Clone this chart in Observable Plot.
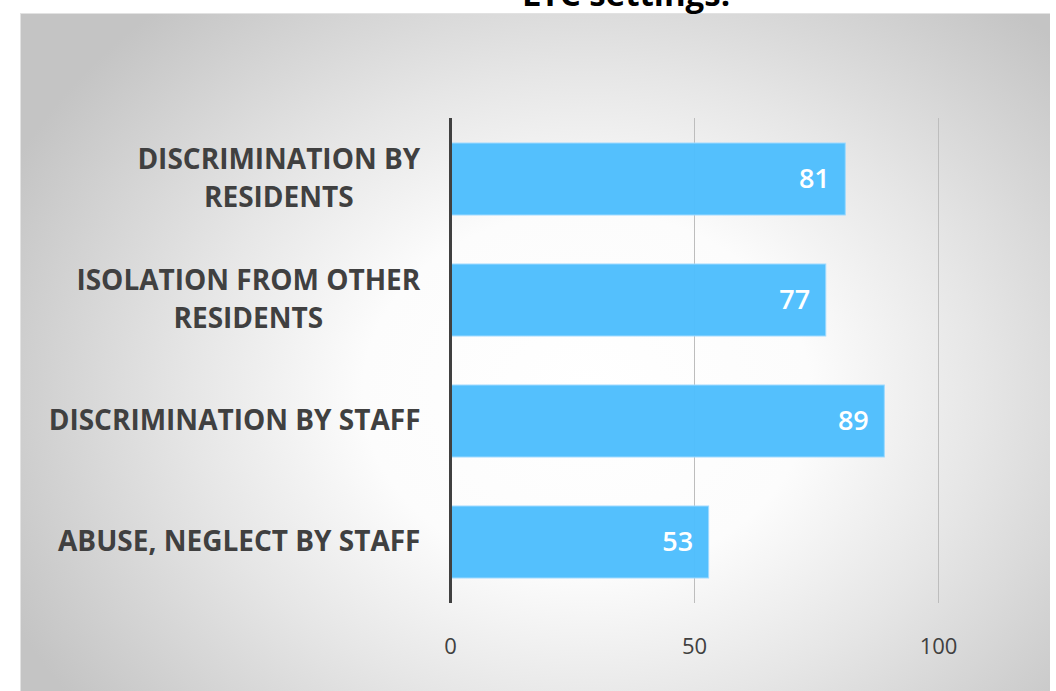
<!DOCTYPE html>
<html>
<head>
<meta charset="utf-8">
<script src="https://cdn.jsdelivr.net/npm/d3@7"></script>
<script src="https://cdn.jsdelivr.net/npm/@observablehq/plot@0.6"></script>
<style>
  html, body { margin: 0; padding: 0; background: #ffffff; width: 1056px; height: 691px; overflow: hidden; }
  #wrap { position: relative; width: 1056px; height: 691px; }
  #panel {
    position: absolute; left: 20px; top: 13px; width: 1030px; height: 690px;
    background: radial-gradient(ellipse 62% 75% at 55% 55%, #ffffff 0%, #fcfcfc 35%, #e6e6e6 62%, #c4c4c4 100%);
    box-shadow: inset 1px 1px 0 #e2e2e2;
  }
  #title {
    position: absolute; left: 0; width: 1252px; top: -24px; text-align: center;
    font-family: "Open Sans", sans-serif; font-weight: 700; font-size: 33px; line-height: 36px; color: #000;
    z-index: 2;
  }
  #chart { position: absolute; left: 0; top: 0; z-index: 1; }
</style>
</head>
<body>
<div id="wrap">
  <div id="panel"></div>
  <div id="title">LTC settings:</div>
  <div id="chart"></div>
</div>
<script>
const categories = [
  "DISCRIMINATION BY RESIDENTS",
  "ISOLATION FROM OTHER RESIDENTS",
  "DISCRIMINATION BY STAFF",
  "ABUSE, NEGLECT BY STAFF"
];
const yTickLabels = [
  "DISCRIMINATION BY\nRESIDENTS",
  "ISOLATION FROM OTHER\nRESIDENTS",
  "DISCRIMINATION BY STAFF",
  "ABUSE, NEGLECT BY STAFF"
];
const values = [81, 77, 89, 53];
const xTicks = [0, 50, 100];
const gridTicks = [50, 100];

const data = categories.map((c, i) => ({category: c, value: values[i]}));
const labelOf = new Map(categories.map((c, i) => [c, yTickLabels[i]]));

const chart = Plot.plot({
  width: 1056,
  height: 691,
  marginLeft: 450,
  marginRight: 118,
  marginTop: 118,
  marginBottom: 88,
  style: {background: "transparent", fontFamily: "'Open Sans', sans-serif"},
  x: {domain: [0, 100]},
  y: {domain: categories, paddingInner: 0.405, paddingOuter: 0.2},
  marks: [
    Plot.ruleX(gridTicks, {stroke: "#bdbdbd", strokeWidth: 1}),
    Plot.barX(data, {x: "value", y: "category", fill: "#4ebefd", fillOpacity: 0.97, stroke: "#9fdaff", strokeWidth: 1}),
    Plot.ruleX([0], {stroke: "#404040", strokeWidth: 3}),
    Plot.text(data, {x: "value", y: "category", text: d => String(d.value), dx: -16, textAnchor: "end",
      fill: "#ffffff", fontSize: 27, fontWeight: 600}),
    Plot.axisX({ticks: xTicks, tickSize: 0, tickPadding: 35, fontSize: 22, fill: "#404040", label: null}),
    Plot.axisY({tickSize: 0, tickPadding: 30, fontSize: 28, fontWeight: 700, fill: "#404040", dy: -4,
      lineHeight: 1.36, tickFormat: d => labelOf.get(d), label: null})
  ]
});
document.getElementById("chart").appendChild(chart);

// center-align the lines of multi-line y tick labels while keeping right edge
const yAxisG = chart.querySelector('g[aria-label="y-axis tick label"]');
if (yAxisG) {
  yAxisG.querySelectorAll("text").forEach(t => {
    const w = t.getBBox().width;
    t.setAttribute("text-anchor", "middle");
    const tr = t.getAttribute("transform") || "";
    t.setAttribute("transform", tr + ` translate(${-w / 2},0)`);
  });
}
</script>
</body>
</html>
